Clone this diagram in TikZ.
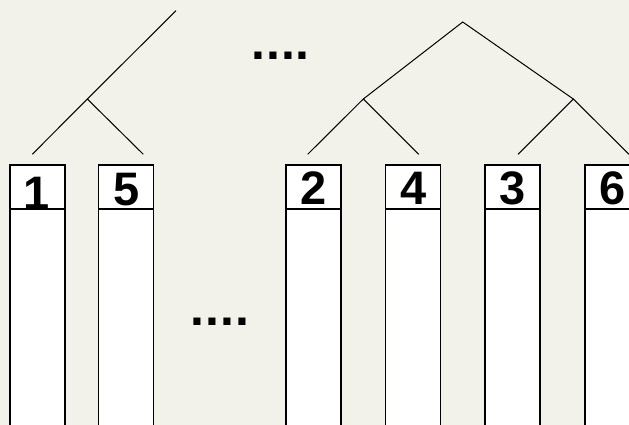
\documentclass[tikz,border=0pt]{standalone}
\usepackage{fontspec}
\setmainfont{Liberation Sans}
\newfontfamily\dotfont[LetterSpace=2]{Liberation Sans}
\definecolor{bgc}{RGB}{242,241,234}
\begin{document}
\begin{tikzpicture}[x=1pt,y=-1pt,
  col/.style={draw=black,line width=1.2pt,fill=white},
  digit/.style={anchor=base,inner sep=0pt,font=\fontsize{47}{47}\selectfont\bfseries},
  dots/.style={anchor=base west,inner sep=0pt,font=\fontsize{50}{50}\selectfont\bfseries\dotfont},
  branch/.style={line width=1pt}]
\fill[bgc] (0,0) rectangle (629,425);
\useasboundingbox (0,0) rectangle (629,425);
\clip (0,0) rectangle (629,425);
% columns
\foreach \n/\l in {c1/10,c5/98.7,c2/286,c4/385.7,c3/485,c6/585}{
  \draw[col] (\l,165) rectangle ++(55,280);
  \draw[col] (\l,209) -- ++(55,0);
  \coordinate (\n) at ({\l+27.5},209);
}
\node[digit] (d1) at ([xshift=-1pt]c1) {1};
\node[digit] (d5) at ([yshift=4pt]c5) {5};
\node[digit] (d2) at ([yshift=4.5pt]c2) {2};
\node[digit] (d4) at ([yshift=4.5pt]c4) {4};
\node[digit] (d3) at ([yshift=4.5pt]c3) {3};
\node[digit] (d6) at ([yshift=4.5pt]c6) {6};
% tree coordinates
\coordinate (t1) at (176,10.7);
\coordinate (j1) at (87.3,99);
\coordinate (l1) at (32.3,154.3);
\coordinate (l5) at (143.3,154.3);
\coordinate (r0) at (462.7,22);
\coordinate (ja) at (363.3,99);
\coordinate (jb) at (573.3,99);
\coordinate (l2) at (307.7,154.3);
\coordinate (l4) at (418.7,154.3);
\coordinate (l3) at (518,154.3);
\coordinate (l6) at (629,154.3);
\draw[branch] (t1) -- (j1) -- (l1);
\draw[branch] (j1) -- (l5);
\draw[branch] (ja) -- (r0) -- (jb);
\draw[branch] (l2) -- (ja) -- (l4);
\draw[branch] (l3) -- (jb) -- (l6);
% dots
\node[dots] (dotsA) at (251,60) {....};
\node[dots] (dotsB) at (190.5,325) {....};
\end{tikzpicture}
\end{document}
